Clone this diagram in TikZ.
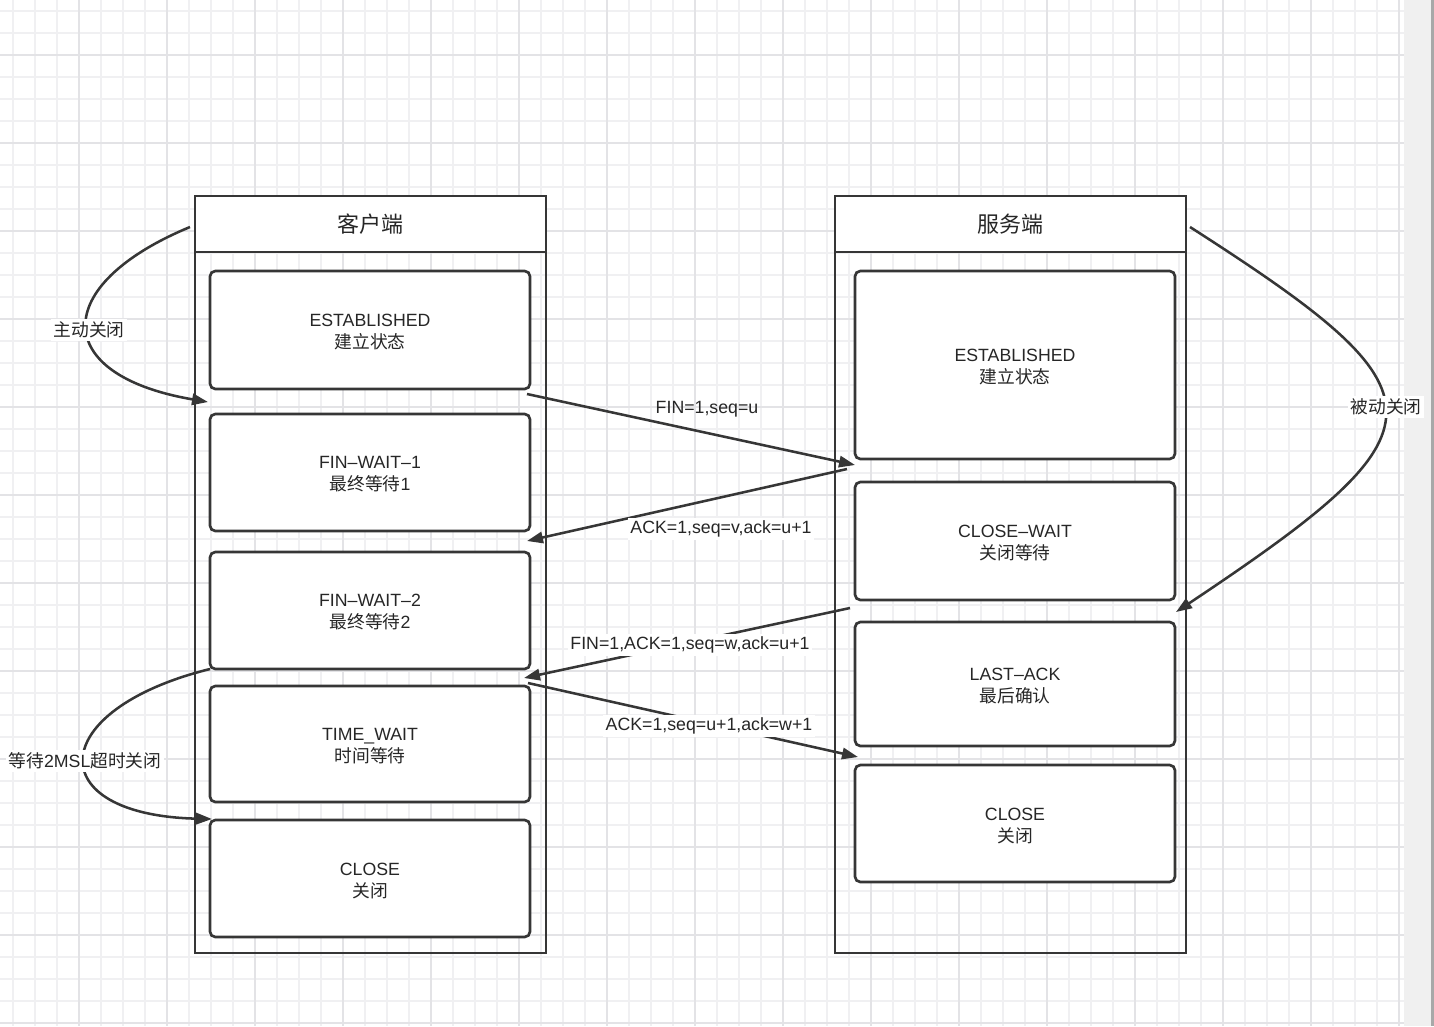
\documentclass[tikz,border=0pt]{standalone}
\usepackage{fontspec}
\setmainfont{Liberation Sans}
\newfontfamily\cjk{Noto Sans CJK SC}
\usetikzlibrary{arrows.meta,fit,calc}
\definecolor{ln}{HTML}{363636}
\definecolor{txt}{HTML}{262626}
\definecolor{gridminor}{HTML}{F0F0F2}
\definecolor{gridmajor}{HTML}{E3E3E6}
\definecolor{band}{HTML}{F0F0F0}
\definecolor{bandline}{HTML}{A8A8A8}
\begin{document}
\begin{tikzpicture}[x=0.75pt,y=-0.75pt,
  outerbox/.style={draw=ln, line width=2pt, inner sep=0pt},
  headbox/.style={draw=ln, line width=2pt, inner sep=0pt, fill=white, text=txt,
    font=\fontsize{16.5}{20}\selectfont},
  statebox/.style={draw=ln, line width=2pt, inner sep=0pt, fill=white, rounded corners=4pt,
    align=center, text=txt, font=\fontsize{13.3}{16.5}\selectfont},
  conn/.style={draw=ln, line width=1.9pt, -{Triangle[length=12pt,width=8.5pt]}},
  lbl/.style={fill=white, inner sep=2pt, text=txt, font=\fontsize{13.3}{16.5}\selectfont}
]
\useasboundingbox (0,0) rectangle (1434,1026);
\fill[white] (0,0) rectangle (1434,1026);
% grid
\foreach \k in {0,...,63} \draw[gridminor, line width=1.1pt] (13+22*\k,0) -- (13+22*\k,1026);
\foreach \k in {0,...,46} \draw[gridminor, line width=1.1pt] (0,11+22*\k) -- (1404,11+22*\k);
\foreach \k in {0,...,15} \draw[gridmajor, line width=1.1pt] (79+88*\k,0) -- (79+88*\k,1026);
\foreach \k in {0,...,11} \draw[gridmajor, line width=1.1pt] (0,55+88*\k) -- (1404,55+88*\k);
\fill[band] (1404,0) rectangle (1431,1026);
\draw[bandline, line width=2pt] (1432.5,0) -- (1432.5,1026);

% client
\node[outerbox, fit={(195,196) (546,953)}] (cOuter) {};
\node[headbox, fit={(195,196) (546,252)}] (cHead) {};
\node[text=txt, font=\fontsize{16.5}{20}\selectfont] at (cHead.center) {\cjk 客户端};
\node[statebox, fit={(210,271) (530,389)}] (cEst) {};
\node[statebox, fit={(210,414) (530,531)}] (cFw1) {};
\node[statebox, fit={(210,552) (530,669)}] (cFw2) {};
\node[statebox, fit={(210,686) (530,802)}] (cTw) {};
\node[statebox, fit={(210,820) (530,937)}] (cCl) {};
\node[statebox, draw=none, fill=none] at ([yshift=-1.5]cEst.center) {ESTABLISHED\\{\cjk 建立状态}};
\node[statebox, draw=none, fill=none] at ([yshift=-1.5]cFw1.center) {FIN--WAIT--1\\{\cjk 最终等待}1};
\node[statebox, draw=none, fill=none] at ([yshift=-1.5]cFw2.center) {FIN--WAIT--2\\{\cjk 最终等待}2};
\node[statebox, draw=none, fill=none] at ([yshift=-1.5]cTw.center) {TIME\_WAIT\\{\cjk 时间等待}};
\node[statebox, draw=none, fill=none] at ([yshift=-1.5]cCl.center) {CLOSE\\{\cjk 关闭}};

% server
\node[outerbox, fit={(835,196) (1186,953)}] (sOuter) {};
\node[headbox, fit={(835,196) (1186,252)}] (sHead) {};
\node[text=txt, font=\fontsize{16.5}{20}\selectfont] at (sHead.center) {\cjk 服务端};
\node[statebox, fit={(855,271) (1175,459)}] (sEst) {};
\node[statebox, fit={(855,482) (1175,600)}] (sCw) {};
\node[statebox, fit={(855,622) (1175,746)}] (sLa) {};
\node[statebox, fit={(855,765) (1175,882)}] (sCl) {};
\node[statebox, draw=none, fill=none] at ([yshift=-1.5]sEst.center) {ESTABLISHED\\{\cjk 建立状态}};
\node[statebox, draw=none, fill=none] at ([yshift=-1.5]sCw.center) {CLOSE--WAIT\\{\cjk 关闭等待}};
\node[statebox, draw=none, fill=none] at ([yshift=-1.5]sLa.center) {LAST--ACK\\{\cjk 最后确认}};
\node[statebox, draw=none, fill=none] at ([yshift=-1.5]sCl.center) {CLOSE\\{\cjk 关闭}};

% connector end points
\coordinate (a1s) at (190,227);
\coordinate (a1e) at (208,402);
\coordinate (f1s) at (527,394);
\coordinate (f1e) at (855,465);
\coordinate (k1s) at (847,469);
\coordinate (k1e) at (527,541);
\coordinate (p1s) at (1190,227);
\coordinate (p1e) at (1176,612);
\coordinate (f2s) at (850,608);
\coordinate (f2e) at (524,678);
\coordinate (k2s) at (528,683);
\coordinate (k2e) at (858,757);
\coordinate (t1s) at (210,669);
\coordinate (t1e) at (212,819);

% connectors
\draw[conn] (a1s) .. controls (50,285) and (50,375) .. (a1e);
\draw[conn] (f1s) -- (f1e);
\draw[conn] (k1s) -- (k1e);
\draw[conn] (p1s) .. controls (1452,395) and (1452,428) .. (p1e);
\draw[conn] (f2s) -- (f2e);
\draw[conn] (k2s) -- (k2e);
\draw[conn] (t1s) .. controls (45,710) and (40,815) .. (t1e);

% labels
\node[lbl] (l1) at (89,330) {\cjk 主动关闭};
\node[lbl, fill=none] (l2) at (707,409) {FIN=1,seq=u};
\node[lbl] (l3) at (721,529) {ACK=1,seq=v,ack=u+1};
\node[lbl] (l4) at (1386,407) {\cjk 被动关闭};
\node[lbl] (l5) at (690,645) {FIN=1,ACK=1,seq=w,ack=u+1};
\node[lbl] (l6) at (709,726) {ACK=1,seq=u+1,ack=w+1};
\node[lbl] (l7) at (85,761) {{\cjk 等待}2MSL{\cjk 超时关闭}};
\end{tikzpicture}
\end{document}
